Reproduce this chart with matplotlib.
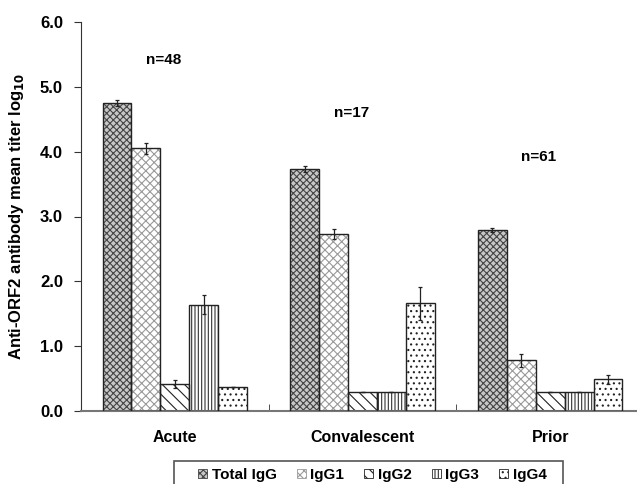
import numpy as np
import matplotlib
matplotlib.use("Agg")
import matplotlib.pyplot as plt
from matplotlib.patches import Patch, Rectangle

plt.rcParams['font.family'] = ['Liberation Sans', 'DejaVu Sans']
plt.rcParams['font.weight'] = 'bold'
plt.rcParams['hatch.linewidth'] = 0.8

groups = ["Acute", "Convalescent", "Prior"]
n_labels = ["n=48", "n=17", "n=61"]
series = ["Total IgG", "IgG1", "IgG2", "IgG3", "IgG4"]
values = {
    "Total IgG": [4.75, 3.73, 2.79],
    "IgG1": [4.05, 2.73, 0.78],
    "IgG2": [0.42, 0.29, 0.29],
    "IgG3": [1.64, 0.29, 0.29],
    "IgG4": [0.37, 1.66, 0.49],
}
errors = {
    "Total IgG": [0.05, 0.05, 0.03],
    "IgG1": [0.08, 0.08, 0.10],
    "IgG2": [0.06, 0.0, 0.0],
    "IgG3": [0.15, 0.0, 0.0],
    "IgG4": [0.0, 0.25, 0.07],
}
n_pos_y = [5.42, 4.6, 3.92]

styles = {
    "Total IgG": dict(face="#c8c8c8", hatch="xxxxx", hc="#444444"),
    "IgG1": dict(face="white", hatch="xxxx", hc="#9a9a9a"),
    "IgG2": dict(face="white", hatch="\\\\\\", hc="#222222"),
    "IgG3": dict(face="white", hatch="|||||", hc="#333333"),
    "IgG4": dict(face="white", hatch="...", hc="#222222"),
}

fig = plt.figure(figsize=(6.37, 4.84), dpi=100)
ax = fig.add_axes([81/637, 73/484, 563/637, 389/484])

x = np.arange(len(groups))
w = 0.154
handles = []
for i, s in enumerate(series):
    pos = x + (i - 2) * w
    st = styles[s]
    ax.bar(pos, values[s], w, color=st["face"], hatch=st["hatch"],
           edgecolor=st["hc"], linewidth=0, zorder=2)
    ax.bar(pos, values[s], w, fill=False, edgecolor="#222222",
           linewidth=1.0, zorder=3)
    ax.errorbar(pos, values[s], yerr=errors[s], fmt="none", ecolor="#222222",
                elinewidth=0.9, capsize=1.2, capthick=0.9, zorder=4)
    handles.append(Patch(facecolor=st["face"], hatch=st["hatch"],
                         edgecolor=st["hc"], linewidth=0.6, label=s))

for i, t in enumerate(n_labels):
    ax.text(x[i] - 0.06, n_pos_y[i], t, ha="center", va="center",
            fontsize=11, fontweight="bold")

ax.set_xlim(-0.5, 2.5)
ax.set_ylim(0, 6)
ax.set_yticks(np.arange(0, 6.5, 1.0))
ax.set_yticklabels([f"{v:.1f}" for v in np.arange(0, 6.5, 1.0)],
                   fontsize=12, fontweight="bold")
ax.set_xticks(x)
ax.set_xticklabels(groups, fontsize=11.5, fontweight="bold")
ax.tick_params(axis="x", length=0, pad=14)
ax.set_xticks([0.5, 1.5], minor=True)
ax.tick_params(axis="x", which="minor", length=5, direction="in", color="#333333")
ax.tick_params(axis="y", length=5, color="#333333", pad=8)
ax.spines["top"].set_visible(False)
ax.spines["right"].set_visible(False)
ax.spines["left"].set_color("#333333")
ax.spines["bottom"].set_color("#777777")
ax.spines["bottom"].set_linewidth(1.5)
ax.set_ylabel("Anti-ORF2 antibody mean titer log$_{\\mathbf{10}}$",
              fontsize=12, fontweight="bold", labelpad=10)

# legend frame drawn separately (runs off the bottom edge)
fig.add_artist(Rectangle((174/637, -0.05), (563 - 174)/637, 0.05 + 23/484,
                         transform=fig.transFigure, fill=False,
                         edgecolor="#555555", linewidth=1.2))
leg = fig.legend(handles=handles, loc="center left",
                 bbox_to_anchor=(198/637, 1 - 475/484), ncol=5,
                 frameon=False, handlelength=0.6, handleheight=0.6,
                 handletextpad=0.3, columnspacing=1.3, borderpad=0.0,
                 borderaxespad=0.0,
                 prop={"weight": "bold", "size": 11})

fig.savefig("out.png", dpi=100)
